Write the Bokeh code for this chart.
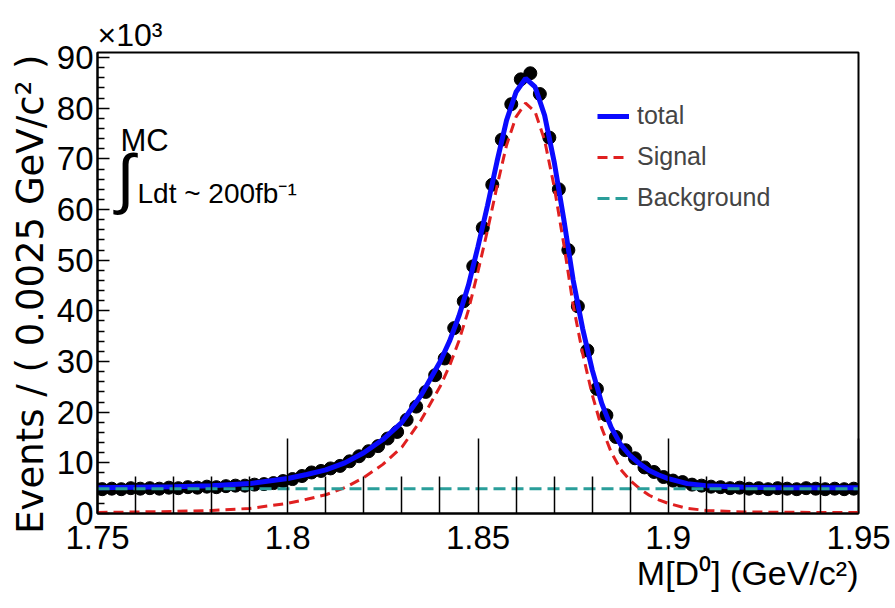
import math
from bokeh.plotting import figure
from bokeh.models import (Range1d, FixedTicker, Label, Legend, LegendItem, ColumnDataSource, Title)
from bokeh.embed import file_html
from bokeh.resources import INLINE

# ---- data (values in units of 10^3 events) ----
bin_width = 0.0025
x_start = 1.75
data_events = [
    4.8, 4.9, 4.8, 5.0, 4.9, 5.0, 4.9, 5.1, 5.0, 5.2,
    5.1, 5.3, 5.2, 5.4, 5.5, 5.5, 5.7, 5.8, 6.0, 6.4,
    6.8, 7.4, 8.1, 8.4, 8.9, 9.4, 10.3, 11.3, 12.3, 13.3,
    14.8, 16.1, 18.5, 21.1, 24.0, 27.3, 30.6, 36.6, 41.9, 48.8,
    56.4, 64.9, 73.8, 80.8, 85.7, 86.9, 82.8, 74.2, 64.0, 52.0,
    40.9, 32.2, 24.6, 19.4, 15.1, 12.5, 10.9, 9.1, 8.2, 7.2,
    6.5, 6.2, 5.7, 5.5, 5.3, 5.2, 5.0, 5.1, 4.9, 5.0,
    4.8, 5.0, 4.9, 4.8, 5.0, 4.9, 4.8, 4.9, 4.8, 4.9,
]
data_mass = [round(x_start + bin_width * (i + 0.5), 5) for i in range(len(data_events))]

curve_mass = [1.75, 1.76, 1.77, 1.78, 1.79, 1.80, 1.805, 1.81, 1.815, 1.82,
              1.825, 1.83, 1.835, 1.84, 1.8425, 1.845, 1.8475, 1.85, 1.8525, 1.855,
              1.8575, 1.86, 1.8625, 1.865, 1.8675, 1.87, 1.8725, 1.875, 1.8775, 1.88,
              1.8825, 1.885, 1.8875, 1.89, 1.8925, 1.895, 1.8975, 1.90, 1.905, 1.91,
              1.92, 1.93, 1.94, 1.95]
total_curve = [5.1, 5.2, 5.3, 5.5, 5.9, 6.9, 7.7, 8.6, 10.0, 12.0,
               14.6, 18.0, 23.3, 29.9, 34.0, 39.0, 45.1, 52.7, 60.8, 69.5,
               77.6, 83.2, 85.9, 84.2, 78.6, 69.5, 58.3, 46.1, 36.5, 28.4,
               21.8, 17.0, 13.6, 11.4, 9.8, 8.5, 7.6, 6.9, 5.9, 5.5,
               5.2, 5.1, 5.1, 5.1]
signal_curve = [0.2, 0.3, 0.4, 0.6, 1.0, 2.0, 2.8, 3.7, 5.1, 7.1,
                9.7, 13.1, 18.4, 25.0, 29.1, 34.1, 40.2, 47.8, 55.9, 64.6,
                72.7, 78.3, 81.0, 79.3, 73.7, 64.6, 53.4, 41.2, 31.6, 23.5,
                16.9, 12.1, 8.7, 6.5, 4.9, 3.6, 2.7, 2.0, 1.0, 0.6,
                0.3, 0.25, 0.2, 0.2]
background_mass = [1.75, 1.95]
background_curve = [4.9, 4.9]

x_major = [1.75, 1.8, 1.85, 1.9, 1.95]
x_major_labels = ["1.75", "1.8", "1.85", "1.9", "1.95"]
x_minor = [1.76, 1.77, 1.78, 1.79, 1.81, 1.82, 1.83, 1.84, 1.86, 1.87, 1.88, 1.89,
           1.91, 1.92, 1.93, 1.94]
y_major = [0, 10, 20, 30, 40, 50, 60, 70, 80, 90]
y_minor = [2, 4, 6, 8, 12, 14, 16, 18, 22, 24, 26, 28, 32, 34, 36, 38, 42, 44, 46, 48,
           52, 54, 56, 58, 62, 64, 66, 68, 72, 74, 76, 78, 82, 84, 86, 88]

FONT = "Liberation Sans"

p = figure(width=895, height=608, output_backend="svg", toolbar_location=None,
           x_range=Range1d(1.75, 1.95), y_range=Range1d(0, 91.0),
           min_border_left=97, min_border_right=37, min_border_top=52, min_border_bottom=95)
p.background_fill_color = "white"
p.border_fill_color = "white"
p.grid.visible = False
p.outline_line_color = "black"
p.outline_line_width = 2

# axes
xa = p.xaxis[0]
xa.ticker = FixedTicker(ticks=x_major, minor_ticks=x_minor)
xa.major_label_overrides = {v: s for v, s in zip(x_major, x_major_labels)}
xa.major_tick_in = 75
xa.major_tick_out = 0
xa.minor_tick_in = 37
xa.minor_tick_out = 0
xa.axis_line_width = 2
xa.major_tick_line_width = 1.5
xa.minor_tick_line_width = 1.5
xa.major_label_text_font = FONT
xa.major_label_text_font_size = "33px"
xa.major_label_text_color = "black"
xa.major_label_standoff = 12

ya = p.yaxis[0]
ya.ticker = FixedTicker(ticks=y_major, minor_ticks=y_minor)
ya.major_tick_in = 12
ya.major_tick_out = 0
ya.minor_tick_in = 7
ya.minor_tick_out = 0
ya.axis_line_width = 2
ya.major_tick_line_width = 1.5
ya.minor_tick_line_width = 1.5
ya.major_label_text_font = FONT
ya.major_label_text_font_size = "33px"
ya.major_label_text_color = "black"
ya.major_label_standoff = 4

# glyphs
src = ColumnDataSource(dict(x=data_mass, y=data_events))
p.scatter("x", "y", source=src, size=13, color="black")
r_total = p.line(curve_mass, total_curve, line_color="#0a0aff", line_width=5)
r_sig = p.line(curve_mass, signal_curve, line_color="#e02020", line_width=3, line_dash="10 6")
r_bkg = p.line(background_mass, background_curve, line_color="#2a9e9a", line_width=3, line_dash="12 6")

legend = Legend(items=[LegendItem(label="total", renderers=[r_total]),
                       LegendItem(label="Signal", renderers=[r_sig]),
                       LegendItem(label="Background", renderers=[r_bkg])],
                location=(500, 301), orientation="vertical")
legend.border_line_color = None
legend.background_fill_alpha = 0
legend.padding = 0
legend.margin = 0
legend.spacing = 12
legend.glyph_width = 32
legend.glyph_height = 28
legend.label_height = 28
legend.label_standoff = 8
legend.label_text_font = FONT
legend.label_text_font_size = "25px"
legend.label_text_baseline = "middle"
p.add_layout(legend, "center")

# axis titles and exponent as side-panel titles
p.add_layout(Title(text="Events / ( 0.0025 GeV/c\u00b2 )", align="right", offset=2,
                   text_font="DejaVu Sans", text_font_size="37px", text_font_style="normal",
                   text_color="black", standoff=4), "left")
p.add_layout(Title(text="M[D\u2070] (GeV/c\u00b2)", align="right", offset=0,
                   text_font=FONT, text_font_size="34px", text_font_style="normal",
                   text_color="black", standoff=0), "below")
p.add_layout(Title(text="\u00d710\u00b3", align="left", offset=0,
                   text_font=FONT, text_font_size="32px", text_font_style="normal",
                   text_color="black", standoff=0), "above")

# text annotations inside the frame (screen coords relative to frame bottom-left)
def lab(text, cx, cy, size, align="left", baseline="alphabetic", angle=0.0, font=FONT):
    p.add_layout(Label(x=cx - 97, y=513 - cy, x_units="screen", y_units="screen",
                       text=text, text_font=font, text_font_size=size,
                       text_align=align, text_baseline=baseline, angle=angle,
                       text_color="black"))

lab("MC", 120, 140, "31px")
lab("\u222b", 116, 177, "66px", baseline="middle")
lab("Ldt ~ 200fb\u207b\u00b9", 137, 193, "28px")

open("out.html", "w").write(file_html(p, INLINE))
